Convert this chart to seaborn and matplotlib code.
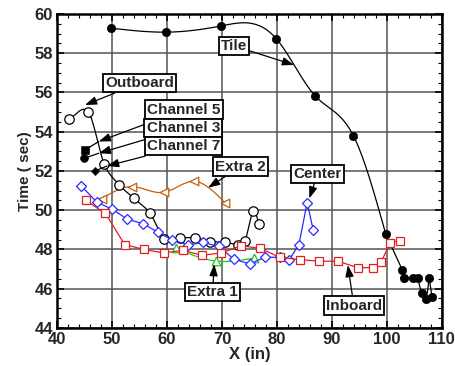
import numpy as np
import matplotlib
matplotlib.use("Agg")
import matplotlib.pyplot as plt
import seaborn as sns

# Data
tile_x = [49.9, 59.9, 69.9, 79.9, 86.9, 93.9, 99.8, 102.8, 103.2, 104.8, 105.6, 106.3, 107.2, 107.7, 108.2]
tile_y = [59.27, 59.07, 59.39, 58.73, 55.84, 53.8, 48.78, 46.96, 46.53, 46.53, 46.53, 45.77, 45.48, 46.53, 45.6]

outboard_x = [42.2, 45.7, 48.6, 51.3, 54.0, 56.9, 59.5, 62.4, 65.1, 67.9, 70.6, 73.0, 74.2, 75.7, 76.8]
outboard_y = [54.65, 55.0, 52.35, 51.3, 50.6, 49.85, 48.55, 48.58, 48.6, 48.4, 48.37, 48.25, 48.45, 49.95, 49.3]

center_x = [44.4, 47.2, 50.0, 52.8, 55.6, 58.3, 61.0, 63.9, 66.6, 69.4, 72.2, 75.1, 77.8, 80.5, 82.2, 84.0, 85.5, 86.6]
center_y = [51.24, 50.42, 50.05, 49.54, 49.32, 48.88, 48.48, 48.23, 48.36, 48.15, 47.5, 47.26, 47.6, 47.6, 47.46, 48.25, 50.39, 48.99]

inboard_x = [45.2, 48.8, 52.3, 55.8, 59.4, 62.9, 66.4, 69.9, 73.5, 77.0, 80.5, 84.2, 87.6, 91.1, 94.7, 97.5, 99.0, 100.6, 102.4]
inboard_y = [50.5, 49.84, 48.25, 48.0, 47.82, 47.95, 47.7, 47.82, 48.19, 48.05, 47.6, 47.48, 47.4, 47.4, 47.07, 47.07, 47.38, 48.35, 48.45]

extra2_x = [48.1, 53.6, 59.45, 64.9, 70.5]
extra2_y = [50.57, 51.2, 50.91, 51.47, 50.39]

extra1_x = [61.6, 68.9, 75.8]
extra1_y = [48.06, 47.41, 47.56]

ch5_x, ch5_y = [45.1], [53.07]
ch3_x, ch3_y = [45.0], [52.65]
ch7_x, ch7_y = [46.9], [52.0]


def natural_spline(x, y, n=30):
    x = np.asarray(x, float)
    y = np.asarray(y, float)
    k = len(x)
    h = np.diff(x)
    A = np.zeros((k, k))
    b = np.zeros(k)
    A[0, 0] = A[-1, -1] = 1
    for i in range(1, k - 1):
        A[i, i - 1] = h[i - 1]
        A[i, i] = 2 * (h[i - 1] + h[i])
        A[i, i + 1] = h[i]
        b[i] = 6 * ((y[i + 1] - y[i]) / h[i] - (y[i] - y[i - 1]) / h[i - 1])
    M = np.linalg.solve(A, b)
    xs, ys = [], []
    for i in range(k - 1):
        t = np.linspace(x[i], x[i + 1], n, endpoint=(i == k - 2))
        a = x[i + 1] - t
        c = t - x[i]
        s = (M[i] * a**3 + M[i + 1] * c**3) / (6 * h[i]) \
            + (y[i] / h[i] - M[i] * h[i] / 6) * a \
            + (y[i + 1] / h[i] - M[i + 1] * h[i] / 6) * c
        xs.append(t)
        ys.append(s)
    return np.concatenate(xs), np.concatenate(ys)


def hermite(x, y, n=30):
    x = np.asarray(x, float)
    y = np.asarray(y, float)
    k = len(x)
    m = np.zeros(k)
    m[0] = (y[1] - y[0]) / (x[1] - x[0])
    m[-1] = (y[-1] - y[-2]) / (x[-1] - x[-2])
    for i in range(1, k - 1):
        m[i] = (y[i + 1] - y[i - 1]) / (x[i + 1] - x[i - 1])
    xs, ys = [], []
    for i in range(k - 1):
        h = x[i + 1] - x[i]
        t = np.linspace(0, 1, n, endpoint=(i == k - 2))
        h00 = 2 * t**3 - 3 * t**2 + 1
        h10 = t**3 - 2 * t**2 + t
        h01 = -2 * t**3 + 3 * t**2
        h11 = t**3 - t**2
        xs.append(x[i] + t * h)
        ys.append(h00 * y[i] + h10 * h * m[i] + h01 * y[i + 1] + h11 * h * m[i + 1])
    return np.concatenate(xs), np.concatenate(ys)


sns.set_style("ticks")
plt.rcParams["font.family"] = ["Liberation Sans", "DejaVu Sans"]
plt.rcParams["font.weight"] = "bold"

fig = plt.figure(figsize=(4.56, 3.66), dpi=100)
ax = fig.add_axes([0.125, 0.104, 0.844, 0.858])

orange = "#c0600a"
blue = "#2a2aff"
red = "#e02020"
green = "#20c820"

# Tile: smooth through the first part, straight in the tail
sx, sy = natural_spline(tile_x[:7], tile_y[:7])
sx = np.concatenate([sx, tile_x[7:]])
sy = np.concatenate([sy, tile_y[7:]])
ax.plot(sx, sy, color="black", lw=0.9, zorder=3)
sns.scatterplot(x=tile_x, y=tile_y, ax=ax, color="black", marker="o", s=36,
                edgecolor="black", zorder=4)

# Outboard
ox, oy = hermite(outboard_x, outboard_y)
ax.plot(ox, oy, color="black", lw=0.9, zorder=3)
sns.scatterplot(x=outboard_x, y=outboard_y, ax=ax, marker="o", s=46,
                facecolor="white", edgecolor="black", linewidth=0.9, zorder=4)

# Extra 2
ex, ey = natural_spline(extra2_x, extra2_y)
ax.plot(ex, ey, color=orange, lw=0.9, zorder=3)
sns.scatterplot(x=extra2_x, y=extra2_y, ax=ax, marker="<", s=38,
                facecolor="white", edgecolor=orange, linewidth=0.9, zorder=4)

# Extra 1
gx, gy = natural_spline(extra1_x, extra1_y)
ax.plot(gx, gy, color=green, lw=0.9, zorder=3)
sns.scatterplot(x=extra1_x, y=extra1_y, ax=ax, marker="^", s=38,
                facecolor="white", edgecolor=green, linewidth=0.9, zorder=4)

# Center and Inboard: straight segments
sns.lineplot(x=center_x, y=center_y, ax=ax, color=blue, lw=0.9, sort=False,
             estimator=None, marker="D", markersize=5.2, markerfacecolor="white",
             markeredgecolor=blue, markeredgewidth=0.9, zorder=4)
sns.lineplot(x=inboard_x, y=inboard_y, ax=ax, color=red, lw=0.9, sort=False,
             estimator=None, marker="s", markersize=5.2, markerfacecolor="white",
             markeredgecolor=red, markeredgewidth=0.9, zorder=4)

# single channel points
sns.scatterplot(x=ch5_x, y=ch5_y, ax=ax, marker="s", s=28, color="black", edgecolor="black", zorder=4)
sns.scatterplot(x=ch3_x, y=ch3_y, ax=ax, marker="o", s=32, color="black", edgecolor="black", zorder=4)
sns.scatterplot(x=ch7_x, y=ch7_y, ax=ax, marker="D", s=18, color="black", edgecolor="black", zorder=4)

ax.set_xlim(40, 110)
ax.set_ylim(44, 60)
ax.set_xticks(np.arange(40, 111, 10))
ax.set_yticks(np.arange(44, 61, 2))
ax.set_xticks(np.arange(40, 111, 2), minor=True)
ax.set_yticks(np.arange(44, 60.1, 0.5), minor=True)
ax.grid(True, which="major", color="#555555", lw=1.1, zorder=0)
ax.set_axisbelow(True)
ax.tick_params(which="both", direction="in", top=True, right=True, color="black")
ax.tick_params(which="major", length=5, width=1.2, labelsize=12, pad=3)
ax.tick_params(which="minor", length=3, width=0.8)
for lab in ax.get_xticklabels() + ax.get_yticklabels():
    lab.set_fontweight("bold")
for sp in ax.spines.values():
    sp.set_linewidth(1.8)
    sp.set_color("black")
ax.set_xlabel("X (in)", fontsize=12, fontweight="bold", labelpad=0)
ax.set_ylabel("Time ( sec)", fontsize=11, fontweight="bold", labelpad=2)

box = dict(boxstyle="square,pad=0.15", fc="white", ec="black", lw=1.3)
arrow = dict(arrowstyle="-|>,head_length=0.5,head_width=0.18", color="black", lw=0.9,
             mutation_scale=14, shrinkA=0, shrinkB=0)
line = dict(arrowstyle="-", color="black", lw=0.9, shrinkA=0, shrinkB=0)
fs = 11

ax.annotate("Tile", xy=(83.1, 57.4), xytext=(72.2, 58.37), ha="center", va="center",
            fontsize=fs, fontweight="bold", bbox=box, arrowprops=arrow, zorder=6)
ax.annotate("Outboard", xy=(45.1, 55.36), xytext=(55.0, 56.47), ha="center", va="center",
            fontsize=fs, fontweight="bold", bbox=box, arrowprops=arrow, zorder=6)
ax.annotate("Extra 2", xy=(67.5, 51.15), xytext=(73.4, 52.22), ha="center", va="center",
            fontsize=fs, fontweight="bold", bbox=box, arrowprops=arrow, zorder=6)
ax.annotate("Center", xy=(85.9, 50.6), xytext=(87.4, 51.85), ha="center", va="center",
            fontsize=fs, fontweight="bold", bbox=box, arrowprops=arrow, zorder=6)
ax.annotate("Extra 1", xy=(68.6, 47.25), xytext=(68.3, 45.83), ha="center", va="center",
            fontsize=fs, fontweight="bold", bbox=box, arrowprops=arrow, zorder=6)
ax.annotate("Inboard", xy=(92.9, 47.2), xytext=(94.0, 45.13), ha="center", va="center",
            fontsize=fs, fontweight="bold", bbox=box, arrowprops=arrow, zorder=6)

# channel labels: arrow head part way, line continues to the point
for name, pos, head, pt in [("Channel 5", (63.1, 55.12), (47.6, 53.5), (ch5_x[0], ch5_y[0])),
                            ("Channel 3", (63.0, 54.18), (47.6, 52.9), (ch3_x[0], ch3_y[0])),
                            ("Channel 7", (63.0, 53.26), (49.1, 52.25), (ch7_x[0], ch7_y[0]))]:
    ax.annotate("", xy=pt, xytext=head, arrowprops=line, zorder=5)
    ax.annotate(name, xy=head, xytext=pos, ha="center", va="center",
                fontsize=fs, fontweight="bold", bbox=box, arrowprops=arrow, zorder=6)

fig.savefig("out.png", dpi=100)
